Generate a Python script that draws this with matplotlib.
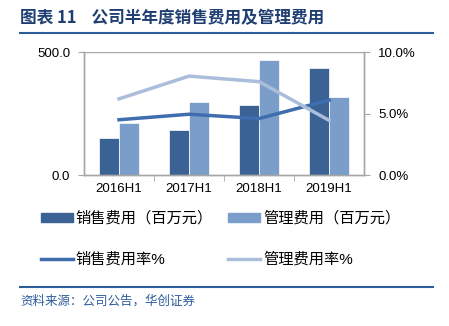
import matplotlib
matplotlib.use("Agg")
import matplotlib.pyplot as plt
import numpy as np
from matplotlib.patches import Patch
from matplotlib.lines import Line2D

plt.rcParams['font.family'] = ['Liberation Sans', 'Noto Sans CJK SC', 'DejaVu Sans']

# 数据
periods = ['2016H1', '2017H1', '2018H1', '2019H1']
sales_exp = [152, 183, 287, 435]      # 销售费用（百万元）
admin_exp = [210, 298, 470, 318]      # 管理费用（百万元）
sales_rate = [4.5, 4.95, 4.6, 6.1]    # 销售费用率%
admin_rate = [6.2, 8.05, 7.6, 4.45]   # 管理费用率%

c_dark = '#3A6294'
c_light = '#7B9DC9'
c_line1 = '#3F6EAE'
c_line2 = '#AABDDB'
c_title = '#1F3F73'
grey = '#A6A6A6'

fig = plt.figure(figsize=(4.49, 3.26), dpi=100)
ax = fig.add_axes([0.187, 0.463, 0.624, 0.377])
ax2 = ax.twinx()

x = np.arange(len(periods))
w = 0.286
ax.bar(x - w / 2, sales_exp, w, color=c_dark, edgecolor='white', linewidth=0.5, zorder=2)
ax.bar(x + w / 2, admin_exp, w, color=c_light, edgecolor='white', linewidth=0.5, zorder=2)
ax.set_ylim(0, 500)
ax.set_xlim(-0.5, 3.5)
ax.set_yticks([0, 500])
ax.set_yticklabels(['0.0', '500.0'], fontsize=9.5)
ax.set_xticks(x)
ax.set_xticklabels(periods, fontsize=9.5)
ax.set_xticks([0.5, 1.5, 2.5], minor=True)
ax.tick_params(axis='x', which='major', length=0, pad=6)
ax.tick_params(axis='x', which='minor', length=4, color=grey, direction='out')
ax.tick_params(axis='y', length=4, color=grey, pad=6)
ax.axhline(500, color=grey, lw=1, zorder=1)

ax2.plot(x, sales_rate, color=c_line1, lw=2.5, zorder=3)
ax2.plot(x, admin_rate, color=c_line2, lw=2.5, zorder=3)
ax2.set_ylim(0, 10)
ax2.set_yticks([0, 5, 10])
ax2.set_yticklabels(['0.0%', '5.0%', '10.0%'], fontsize=9.5)
ax2.tick_params(axis='y', length=4, color=grey, pad=6)

for a in (ax, ax2):
    for s in a.spines.values():
        s.set_color(grey)
        s.set_linewidth(1)
    a.spines['top'].set_visible(False)

# 图例（按列填充，所以顺序调整）
handles = [Patch(color=c_dark), Line2D([], [], color=c_line1, lw=2.5),
           Patch(color=c_light), Line2D([], [], color=c_line2, lw=2.5)]
labels = ['销售费用（百万元）', '销售费用率%', '管理费用（百万元）', '管理费用率%']
fig.legend(handles, labels, loc='upper left', bbox_to_anchor=(0.06, 0.395), ncol=2,
           frameon=False, fontsize=11, handlelength=2.1, handleheight=0.5,
           columnspacing=1.0, labelspacing=1.75, handletextpad=0.2)

# 标题
fig.text(0.045, 0.945, '图表 11    公司半年度销售费用及管理费用', fontsize=12, fontweight='bold',
         color=c_title, va='center', family=['Noto Sans CJK SC'])
fig.add_artist(Line2D([0.045, 0.965], [0.898, 0.898], color='#2E5C9A', lw=1.5))
fig.add_artist(Line2D([0.045, 0.965], [0.12, 0.12], color='#2E5C9A', lw=1.5))
fig.text(0.045, 0.075, '资料来源：公司公告，华创证券', fontsize=9, color='#2E5C9A',
         style='italic', va='center', family=['Noto Sans CJK SC'])

fig.savefig('out.png', dpi=100)
